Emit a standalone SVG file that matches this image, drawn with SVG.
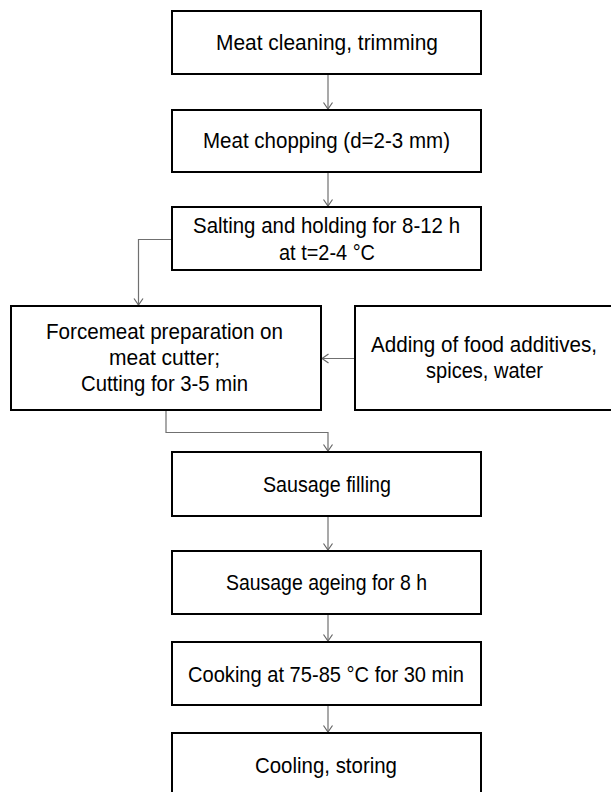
<svg xmlns="http://www.w3.org/2000/svg" width="611" height="792" viewBox="0 0 611 792">
<defs>
<marker id="arr" viewBox="-8 -6 9 12" markerWidth="9" markerHeight="12" refX="0" refY="0" orient="auto" markerUnits="userSpaceOnUse">
<path d="M-6.5,-4.5 L0,0 L-6.5,4.5" fill="none" stroke="#666" stroke-width="1.2"/>
</marker>
<style>
.box{fill:#fff;stroke:#000;stroke-width:2}
.t{font-family:"Liberation Sans",Arial,sans-serif;font-size:22px;fill:#000}
.c{fill:none;stroke:#707070;stroke-width:1.2;marker-end:url(#arr)}
</style>
</defs>
<rect width="611" height="792" fill="#fff"/>
<g id="connectors">
<path class="c" d="M328 75 V109"/>
<path class="c" d="M328 173 V206"/>
<path class="c" d="M172 239.5 H138.5 V305"/>
<path class="c" d="M355 358.5 H322"/>
<path class="c" d="M166 411 V432.5 H328 V451"/>
<path class="c" d="M328 517 V550"/>
<path class="c" d="M328 615 V641"/>
<path class="c" d="M328 706 V732"/>
</g>
<g id="n1"><rect class="box" x="172" y="11" width="309" height="63"/>
<text class="t" x="216" y="50" textLength="222" lengthAdjust="spacingAndGlyphs">Meat cleaning, trimming</text></g>
<g id="n2"><rect class="box" x="172" y="110" width="309" height="62"/>
<text class="t" x="203" y="148" textLength="247" lengthAdjust="spacingAndGlyphs">Meat chopping (d=2-3 mm)</text></g>
<g id="n3"><rect class="box" x="172" y="207" width="309" height="63"/>
<text class="t" x="193" y="233" textLength="267" lengthAdjust="spacingAndGlyphs">Salting and holding for 8-12 h</text>
<text class="t" x="279" y="260" textLength="96" lengthAdjust="spacingAndGlyphs">at t=2-4 °C</text></g>
<g id="n4"><rect class="box" x="11" y="306" width="310" height="104"/>
<text class="t" x="46" y="339" textLength="237" lengthAdjust="spacingAndGlyphs">Forcemeat preparation on</text>
<text class="t" x="109" y="365" textLength="111" lengthAdjust="spacingAndGlyphs">meat cutter;</text>
<text class="t" x="81" y="391" textLength="167" lengthAdjust="spacingAndGlyphs">Cutting for 3-5 min</text></g>
<g id="n5"><rect class="box" x="355" y="306" width="262" height="104"/>
<text class="t" x="371" y="352" textLength="226" lengthAdjust="spacingAndGlyphs">Adding of food additives,</text>
<text class="t" x="426" y="378" textLength="117" lengthAdjust="spacingAndGlyphs">spices, water</text></g>
<g id="n6"><rect class="box" x="172" y="452" width="309" height="64"/>
<text class="t" x="263" y="492" textLength="128" lengthAdjust="spacingAndGlyphs">Sausage filling</text></g>
<g id="n7"><rect class="box" x="172" y="551" width="309" height="63"/>
<text class="t" x="226" y="590" textLength="201" lengthAdjust="spacingAndGlyphs">Sausage ageing for 8 h</text></g>
<g id="n8"><rect class="box" x="172" y="642" width="309" height="63"/>
<text class="t" x="188" y="682" textLength="276" lengthAdjust="spacingAndGlyphs">Cooking at 75-85 °C for 30 min</text></g>
<g id="n9"><rect class="box" x="172" y="733" width="309" height="70"/>
<text class="t" x="255" y="773" textLength="142" lengthAdjust="spacingAndGlyphs">Cooling, storing</text></g>
</svg>
